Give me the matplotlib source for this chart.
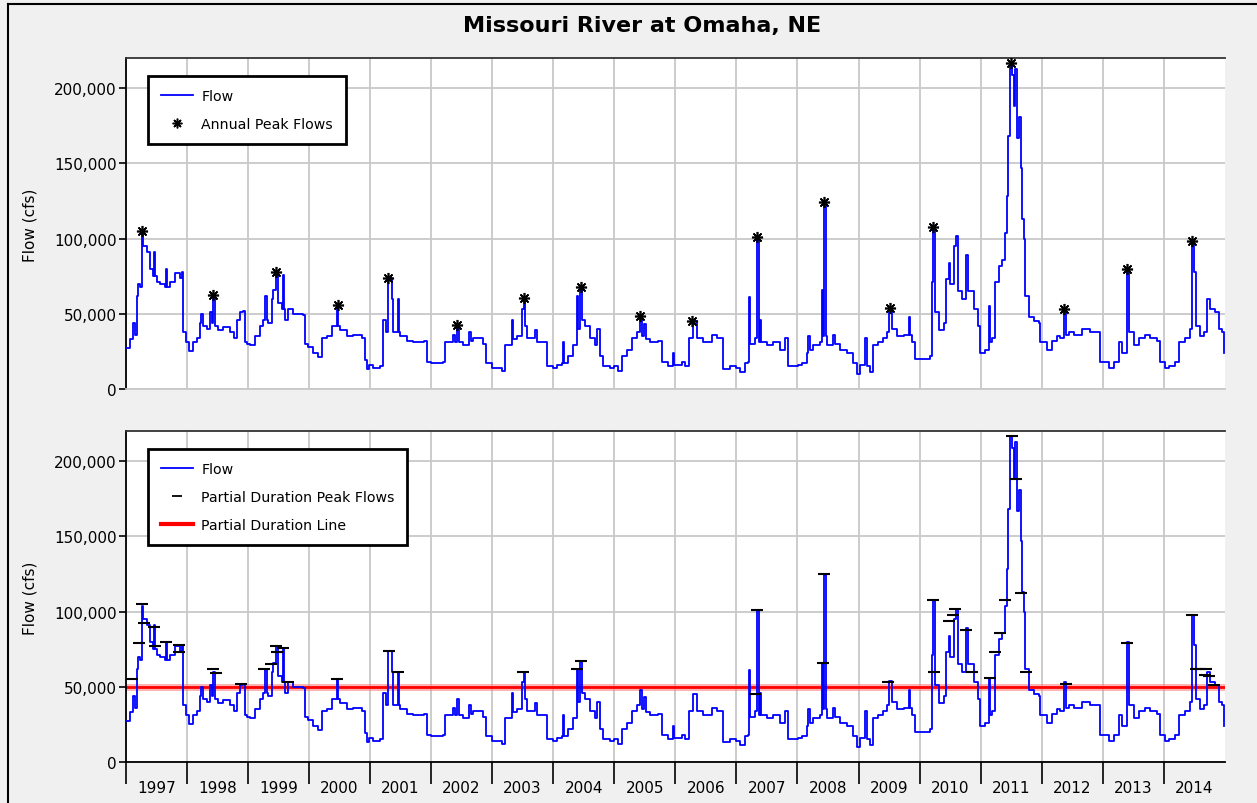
import matplotlib
matplotlib.use("Agg")
import matplotlib.pyplot as plt
import numpy as np
from matplotlib.lines import Line2D
from matplotlib.ticker import FuncFormatter

TITLE = "Missouri River at Omaha, NE"
YEARS = list(range(1997, 2015))
Y_TICKS = [0, 50000, 100000, 150000, 200000]

# daily flow (decimal year, thousand cfs)
FLOW_T = [
    1997.005, 1997.070, 1997.125, 1997.152, 1997.180, 1997.207, 1997.234, 1997.261, 1997.289,
    1997.343, 1997.398, 1997.453, 1997.469, 1997.480, 1997.507, 1997.562, 1997.644, 1997.660,
    1997.676, 1997.726, 1997.807, 1997.889, 1997.916, 1997.933, 1997.944, 1997.987,
    1998.042, 1998.108, 1998.162, 1998.217, 1998.233, 1998.271, 1998.326, 1998.381, 1998.408,
    1998.435, 1998.462, 1998.517, 1998.599, 1998.708, 1998.774, 1998.817, 1998.872, 1998.916,
    1998.954, 1998.987,
    1999.036, 1999.118, 1999.200, 1999.255, 1999.282, 1999.310, 1999.337, 1999.390, 1999.418,
    1999.461, 1999.499, 1999.554, 1999.570, 1999.587, 1999.609, 1999.663, 1999.745, 1999.909,
    1999.936, 1999.991,
    2000.073, 2000.155, 2000.209, 2000.291, 2000.373, 2000.455, 2000.466, 2000.482, 2000.510,
    2000.619, 2000.728, 2000.864, 2000.919, 2000.946, 2000.990,
    2001.055, 2001.165, 2001.219, 2001.263, 2001.301, 2001.356, 2001.383, 2001.454, 2001.470,
    2001.492, 2001.601, 2001.710, 2001.885, 2001.928, 2001.994,
    2002.092, 2002.202, 2002.229, 2002.365, 2002.393, 2002.431, 2002.453, 2002.529, 2002.627,
    2002.649, 2002.693, 2002.857, 2002.901, 2002.994,
    2003.130, 2003.157, 2003.212, 2003.321, 2003.349, 2003.403, 2003.485, 2003.523, 2003.545,
    2003.567, 2003.703, 2003.731, 2003.867, 2003.894, 2003.998,
    2004.058, 2004.150, 2004.167, 2004.180, 2004.249, 2004.331, 2004.386, 2004.413, 2004.446,
    2004.468, 2004.522, 2004.604, 2004.686, 2004.713, 2004.768, 2004.823, 2004.932, 2004.997,
    2005.068, 2005.123, 2005.205, 2005.287, 2005.369, 2005.423, 2005.450, 2005.488, 2005.521,
    2005.587, 2005.723, 2005.778, 2005.887, 2005.969, 2005.985,
    2006.105, 2006.160, 2006.231, 2006.285, 2006.351, 2006.460, 2006.597, 2006.679, 2006.761,
    2006.788, 2006.897, 2007.001,
    2007.061, 2007.143, 2007.197, 2007.208, 2007.225, 2007.306, 2007.345, 2007.366, 2007.388,
    2007.410, 2007.497, 2007.607, 2007.716, 2007.798, 2007.852, 2008.005,
    2008.071, 2008.153, 2008.180, 2008.207, 2008.262, 2008.371, 2008.398, 2008.420, 2008.442,
    2008.464, 2008.480, 2008.589, 2008.617, 2008.699, 2008.808, 2008.917, 2008.972,
    2009.026, 2009.108, 2009.135, 2009.190, 2009.233, 2009.326, 2009.408, 2009.463, 2009.506,
    2009.545, 2009.627, 2009.736, 2009.818, 2009.834, 2009.872, 2009.927,
    2010.091, 2010.172, 2010.200, 2010.216, 2010.254, 2010.309, 2010.391, 2010.434, 2010.473,
    2010.500, 2010.555, 2010.598, 2010.636, 2010.691, 2010.762, 2010.800, 2010.882, 2010.948,
    2010.991,
    2011.073, 2011.128, 2011.144, 2011.182, 2011.237, 2011.292, 2011.346, 2011.401, 2011.428,
    2011.455, 2011.482, 2011.510, 2011.537, 2011.564, 2011.592, 2011.635, 2011.658, 2011.674,
    2011.712, 2011.728, 2011.783, 2011.865, 2011.947, 2011.974,
    2012.083, 2012.165, 2012.247, 2012.302, 2012.367, 2012.400, 2012.438, 2012.520, 2012.656,
    2012.793, 2012.902, 2012.946,
    2013.093, 2013.175, 2013.257, 2013.311, 2013.393, 2013.421, 2013.502, 2013.584, 2013.694,
    2013.775, 2013.885, 2013.939,
    2014.010, 2014.076, 2014.185, 2014.240, 2014.349, 2014.431, 2014.458, 2014.485, 2014.529,
    2014.594, 2014.649, 2014.704, 2014.758, 2014.840, 2014.895, 2014.949, 2014.987,
]
FLOW_KCFS = [
    27, 33, 44, 36, 62, 70, 68, 104, 95,
    91, 80, 75, 91, 75, 71, 70, 68, 80,
    68, 71, 77, 74, 78, 60, 38, 31,
    25, 31, 34, 44, 50, 42, 40, 51, 44,
    60, 42, 39, 41, 38, 34, 46, 51, 52,
    31, 30,
    29, 35, 42, 46, 62, 46, 44, 60, 66,
    77, 57, 53, 76, 53, 46, 53, 50, 49,
    30, 28,
    24, 21, 34, 35, 42, 42, 55, 42, 39,
    35, 36, 34, 19, 13, 16,
    14, 15, 46, 38, 74, 60, 38, 60, 38,
    35, 32, 31, 32, 18, 17,
    17, 18, 31, 36, 31, 42, 31, 29, 38,
    32, 34, 30, 17, 14,
    14, 12, 29, 46, 33, 35, 53, 60, 42,
    34, 39, 31, 31, 15, 14,
    16, 17, 31, 17, 22, 29, 62, 40, 67,
    46, 42, 34, 29, 40, 22, 15, 14, 15,
    12, 22, 26, 34, 38, 48, 35, 43, 33,
    31, 32, 18, 15, 24, 16,
    18, 15, 34, 45, 34, 31, 36, 34, 34,
    13, 15, 14,
    11, 17, 18, 61, 30, 34, 101, 31, 46,
    31, 29, 31, 26, 34, 15, 16,
    17, 24, 35, 26, 29, 31, 66, 35, 124,
    35, 29, 36, 30, 26, 24, 17, 10,
    16, 34, 15, 11, 29, 31, 34, 38, 54,
    40, 35, 36, 48, 36, 31, 20,
    20, 22, 71, 108, 51, 39, 44, 73, 84,
    70, 95, 102, 65, 60, 89, 65, 53, 42,
    24,
    26, 55, 31, 34, 71, 82, 86, 104, 128,
    168, 217, 209, 188, 213, 167, 181, 147, 113,
    100, 62, 48, 45, 44, 31,
    26, 32, 35, 34, 53, 36, 38, 36, 40,
    38, 38, 18,
    14, 18, 31, 24, 80, 38, 29, 34, 36,
    34, 32, 18,
    14, 15, 18, 31, 34, 40, 98, 78, 42,
    35, 38, 60, 53, 51, 40, 38, 24,
]

ANNUAL_PEAK_T = [1997.26, 1998.43, 1999.46, 2000.47, 2001.30, 2002.43, 2003.52, 2004.45, 2005.42,
                 2006.28, 2007.34, 2008.44, 2009.51, 2010.22, 2011.49, 2012.37, 2013.39, 2014.46]
ANNUAL_PEAK_KCFS = [105, 62.6, 78, 56, 74, 42.5, 60.5, 67.5, 48.7,
                    45.4, 101, 124.5, 54, 108, 217, 53, 80, 98.5]

PD_PEAK_T = [1997.098, 1997.223, 1997.262, 1997.305, 1997.463, 1997.480, 1997.655, 1997.873,
             1997.878, 1998.435, 1998.479, 1998.883, 1999.265, 1999.380, 1999.462, 1999.473,
             1999.581, 1999.663, 2000.465, 2001.317, 2001.455, 2003.512, 2004.391, 2004.456,
             2007.307, 2007.336, 2008.413, 2008.436, 2009.489, 2010.217, 2010.233, 2010.483,
             2010.554, 2010.582, 2010.754, 2010.857, 2011.147, 2011.237, 2011.309, 2011.405,
             2011.520, 2011.581, 2011.658, 2011.744, 2012.400, 2013.391, 2014.467, 2014.520,
             2014.594, 2014.667, 2014.693, 2014.737, 2014.812]
PD_PEAK_KCFS = [55, 79, 105, 92.7, 89.6, 77, 80, 77.7,
                73, 62, 59, 52, 62, 65, 77, 73,
                76, 53, 55, 74, 60, 60, 62, 67,
                45, 101, 66, 125, 53, 108, 60, 94,
                98, 102, 88, 60, 56, 73, 86, 108,
                217, 188, 112, 60, 52, 79, 98, 62,
                62, 58, 62, 57, 51]

PD_THRESHOLD = 50000

flow_t = np.array(FLOW_T)
flow_q = np.array(FLOW_KCFS) * 1000
ap_t = np.array(ANNUAL_PEAK_T)
ap_q = np.array(ANNUAL_PEAK_KCFS) * 1000
pd_t = np.array(PD_PEAK_T)
pd_q = np.array(PD_PEAK_KCFS) * 1000

BLUE = "#0000ff"
GRID = "#c8c8c8"
ASTERISK = (8, 2, 0)

plt.rcParams["font.family"] = ["DejaVu Sans"]
plt.rcParams["font.size"] = 11

fig = plt.figure(figsize=(12.57, 8.04), dpi=100, facecolor="#f0f0f0")
W, H = 1257, 804


def px_box(left, top, right, bottom):
    return [left / W, 1 - bottom / H, (right - left) / W, (bottom - top) / H]


ax_top = fig.add_axes(px_box(125.7, 59, 1225, 390))
ax_bot = fig.add_axes(px_box(125.7, 432, 1225, 763))

for ax in (ax_top, ax_bot):
    ax.set_facecolor("white")
    ax.set_xlim(1997, 2015)
    ax.set_ylim(0, 220000)
    ax.set_xticks(YEARS)
    ax.set_yticks(Y_TICKS)
    ax.yaxis.set_major_formatter(FuncFormatter(lambda v, p: f"{int(v):,}"))
    ax.grid(True, color=GRID, lw=1.3, zorder=0)
    ax.set_axisbelow(True)
    ax.spines["right"].set_visible(False)
    ax.spines["left"].set_color("black")
    ax.spines["top"].set_color("#333333")
    for s in ("left", "top", "bottom"):
        ax.spines[s].set_linewidth(1.3)
    ax.tick_params(axis="y", length=5, width=1.2, pad=1.5, labelsize=11)
    ax.plot(flow_t, flow_q, color=BLUE, lw=1.3, drawstyle="steps-post", zorder=3)

# top panel: annual peaks
ax_top.spines["bottom"].set_color(GRID)
ax_top.tick_params(axis="x", length=0, labelbottom=False)
ax_top.plot(ap_t, ap_q, ls="none", marker=ASTERISK, ms=8, mew=1.2, color="black", zorder=4)

# bottom panel: partial duration series
ax_bot.axhline(PD_THRESHOLD, color="#ff8080", lw=5, alpha=0.6, zorder=2)
ax_bot.axhline(PD_THRESHOLD, color="red", lw=2, zorder=2.5)
ax_bot.plot(pd_t, pd_q, ls="none", marker="_", ms=9, mew=1.5, color="black", zorder=4)
ax_bot.spines["bottom"].set_color("black")
ax_bot.tick_params(axis="x", which="major", length=16, width=1.2, labelbottom=False)
ax_bot.set_xticks([y + 0.5 for y in YEARS], minor=True)
ax_bot.set_xticklabels([str(y) for y in YEARS], minor=True)
ax_bot.tick_params(axis="x", which="minor", length=0, pad=13, labelsize=11)

leg_kw = dict(loc="upper left", bbox_to_anchor=(0.0203, 0.9456), fancybox=False,
              framealpha=1, edgecolor="black", fontsize=10.2, handlelength=2.3,
              handletextpad=0.55, labelspacing=1.0, borderpad=0.9, borderaxespad=0)

h_flow = Line2D([], [], color=BLUE, lw=1.3)
h_ap = Line2D([], [], ls="none", marker=ASTERISK, ms=7, mew=1.1, color="black")
leg = ax_top.legend([h_flow, h_ap], ["Flow", "Annual Peak Flows"], **leg_kw)
leg.get_frame().set_linewidth(2)

h_pd = Line2D([], [], ls="none", marker="_", ms=7, mew=1.3, color="black")
h_line = Line2D([], [], color="red", lw=3)
leg = ax_bot.legend([h_flow, h_pd, h_line],
                    ["Flow", "Partial Duration Peak Flows", "Partial Duration Line"], **leg_kw)
leg.get_frame().set_linewidth(2)

fig.text(642 / W, 1 - 26 / H, TITLE, ha="center", va="center", fontsize=16, fontweight="bold")
fig.text(30 / W, 1 - 225 / H, "Flow (cfs)", rotation=90, ha="center", va="center", fontsize=11)
fig.text(30 / W, 1 - 598 / H, "Flow (cfs)", rotation=90, ha="center", va="center", fontsize=11)

# outer panel border (only left and top edges fall inside the picture)
fig.add_artist(Line2D([8 / W, 8 / W], [0, 1 - 5 / H], transform=fig.transFigure,
                      color="black", lw=1.5))
fig.add_artist(Line2D([8 / W, 1], [1 - 5 / H, 1 - 5 / H], transform=fig.transFigure,
                      color="black", lw=1.5))

fig.savefig("out.png", dpi=100, facecolor=fig.get_facecolor())
